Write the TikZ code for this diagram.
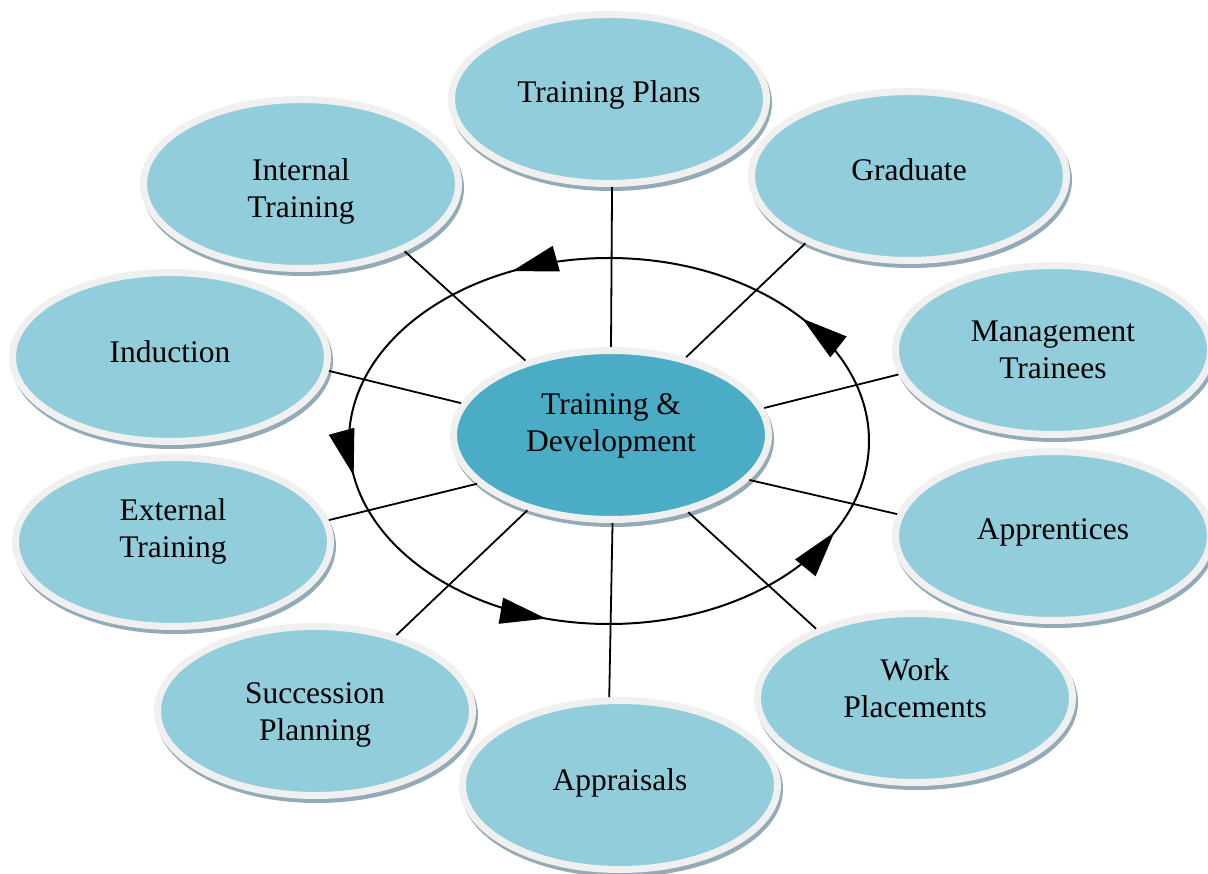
\documentclass[tikz,border=0pt]{standalone}
\usepackage{fontspec}
\setmainfont{Liberation Serif}
\usetikzlibrary{shapes.geometric,shadows,arrows.meta,decorations.markings}
\definecolor{lightteal}{HTML}{92CDDC}
\definecolor{darkteal}{HTML}{4BACC6}
\definecolor{rimgray}{HTML}{F0F0F0}
\definecolor{shadowgray}{HTML}{93ABB6}
\tikzset{
	topic/.style={ellipse, draw=rimgray, line width=7pt, fill=lightteal,
		minimum width=315pt, minimum height=169pt, inner sep=0pt, align=center,
		font=\fontsize{31.5}{37}\selectfont,
		drop shadow={shadow xshift=2pt, shadow yshift=-4pt, fill=shadowgray, draw=shadowgray, line width=7pt, opacity=1}},
	hub/.style={topic, fill=darkteal},
	spoke/.style={line width=1.8pt},
	ring/.style={line width=2pt, postaction={decorate}, decoration={markings,
		mark=at position 0.103 with {\arrow{Triangle[length=46pt,width=26pt]}},
		mark=at position 0.320 with {\arrow{Triangle[length=46pt,width=26pt]}},
		mark=at position 0.525 with {\arrow{Triangle[length=46pt,width=26pt]}},
		mark=at position 0.705 with {\arrow{Triangle[length=46pt,width=26pt]}},
		mark=at position 0.929 with {\arrow{Triangle[length=46pt,width=26pt]}}}}
}
\begin{document}
\begin{tikzpicture}[x=1pt,y=1pt]
	\useasboundingbox (0,0) rectangle (1208,-874);
	% draw the cycle with its arrows
	\coordinate (ringc) at (609,-441);
	\draw[ring] (ringc) ellipse [x radius=260, y radius=183];
	% draw nodes
	\node[hub, text depth=25pt] (hub) at (611,-435) {Training \&\\Development};
	\node[topic, text depth=15pt] (plans) at (609,-99) {Training Plans};
	\node[topic, text depth=12pt] (grad) at (909,-176) {Graduate};
	\node[topic] (mgmt) at (1053,-350) {Management\\Trainees};
	\node[topic, text depth=13pt] (appr) at (1053,-536) {Apprentices};
	\node[topic, text depth=19pt] (work) at (915,-698) {Work\\Placements};
	\node[topic, text depth=11pt] (apprais) at (620,-785) {Appraisals};
	\node[topic, text height=66pt] (succ) at (315,-711) {Succession\\Planning};
	\node[topic, text depth=27pt] (ext) at (173,-542) {External\\Training};
	\node[topic, text depth=10pt] (ind) at (170,-357) {Induction};
	\node[topic, text height=73pt] (int) at (301,-184) {Internal\\Training};
	% draw the spokes (node/its angle/hub angle)
	\foreach \n/\a/\b in {plans/272/90,grad/213/46,mgmt/189/10,appr/172/342,work/145/315,apprais/97/271,succ/43/222,ext/8/200,ind/355/168,int/327/139}{\draw[spoke] (hub.\b) -- (\n.\a);}
\end{tikzpicture}
\end{document}
